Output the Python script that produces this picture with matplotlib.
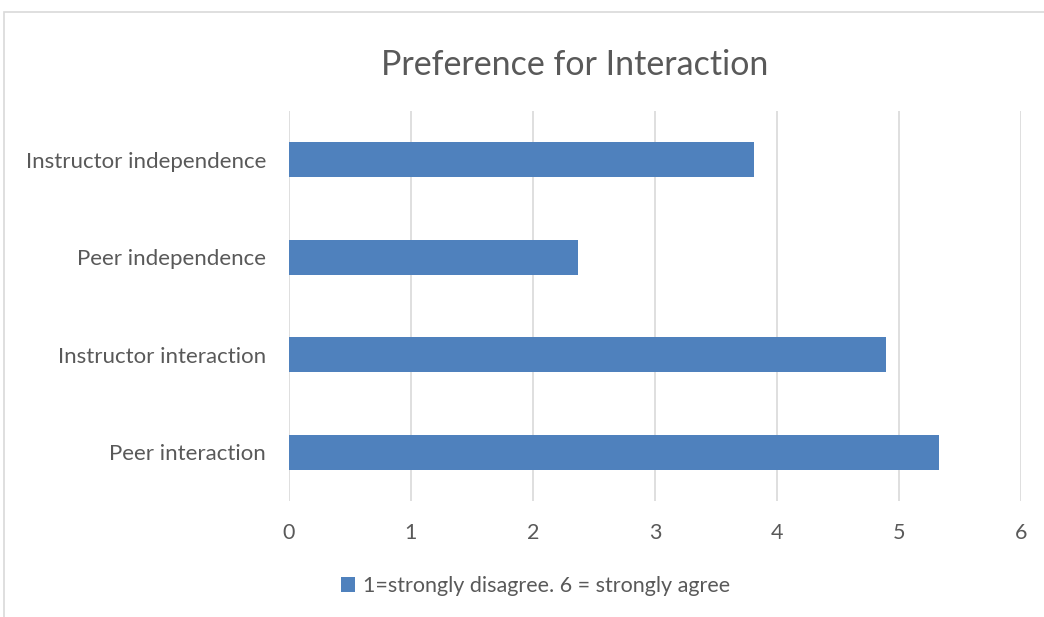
import matplotlib.pyplot as plt
from matplotlib.patches import Rectangle

categories = ["Peer interaction", "Instructor interaction", "Peer independence", "Instructor independence"]
scores = [5.33, 4.89, 2.37, 3.81]
x_ticks = [0, 1, 2, 3, 4, 5, 6]
series_label = "1=strongly disagree. 6 = strongly agree"

text_color = "#595959"
bar_color = "#4F81BD"
grid_color = "#D9D9D9"

plt.rcParams["font.family"] = ["Lato", "DejaVu Sans"]

fig = plt.figure(figsize=(10.44, 6.17), dpi=100)
ax = fig.add_axes([0.2768, 0.188, 0.7011, 0.632])

# chart frame
fig.patches.append(Rectangle((4 / 1044, -0.1), 1.2, 1.1 - 12 / 617, transform=fig.transFigure,
                             fill=False, edgecolor="#D9D9D9", linewidth=1.2))

ax.barh(range(len(categories)), scores, height=0.36, color=bar_color, zorder=3,
        label=series_label)
ax.set_yticks(range(len(categories)))
ax.set_yticklabels(categories, fontsize=16)
ax.set_ylim(-0.5, len(categories) - 0.5)
ax.set_xlim(0, 6)
ax.set_xticks(x_ticks)

ax.grid(axis="x", color=grid_color, linewidth=1.2, zorder=0)
for side in ["top", "right", "bottom", "left"]:
    ax.spines[side].set_visible(False)
ax.tick_params(axis="x", length=0, labelsize=15.5, colors=text_color, pad=16)
ax.tick_params(axis="y", length=0, colors=text_color, pad=16.5)

fig.text(0.5505, 0.895, "Preference for Interaction", ha="center", va="center",
         fontsize=24.5, color=text_color)

leg = fig.legend(loc="center", bbox_to_anchor=(0.513, 0.05), frameon=False,
                 fontsize=15.5, handlelength=0.65, handleheight=0.65, handletextpad=0.35)
for t in leg.get_texts():
    t.set_color(text_color)

fig.savefig("out.png", dpi=100)
